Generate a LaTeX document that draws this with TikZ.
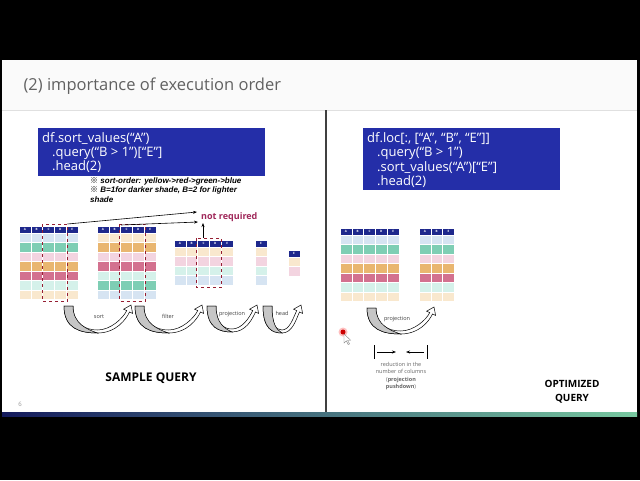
\documentclass[tikz,border=0pt]{standalone}
\usepackage{fontspec}
\setmainfont{Open Sans}
\newfontfamily\notefont{Liberation Sans}
\newfontfamily\jpfont{Noto Sans CJK JP}
\usetikzlibrary{arrows.meta}

\definecolor{codeblue}{RGB}{36,46,168}
\definecolor{hdrblue}{RGB}{30,40,140}
\definecolor{lblue}{RGB}{214,228,242}
\definecolor{tealc}{RGB}{126,206,180}
\definecolor{lpink}{RGB}{243,212,224}
\definecolor{orangec}{RGB}{233,182,112}
\definecolor{rosec}{RGB}{211,113,143}
\definecolor{mintc}{RGB}{213,241,234}
\definecolor{peachc}{RGB}{249,232,206}
\definecolor{notred}{RGB}{160,40,90}
\definecolor{dashred}{RGB}{150,30,50}

% one data frame: name, left x, top y, column letters, row colours
\newcommand{\dftab}[5]{%
  \foreach \hl [count=\i from 0] in {#4} {
    \fill[hdrblue,draw=white,line width=0.6pt] ({#2+\i*11.8},#3) rectangle ++(11.8,7);
    \node[hdrtxt] (#1-\hl) at ({#2+(\i+0.5)*11.8},{#3+3.5}) {\hl};
    \foreach \rc [count=\j from 0] in {#5}
      \fill[\rc,draw=white,line width=0.6pt] ({#2+\i*11.8},{#3+7+\j*9.5}) rectangle ++(11.8,9.5);
  }}
% curved block arrow: tail x, tip x, top y, bottom y
\newcommand{\uturn}[4]{%
  \pgfmathsetmacro\arm{(#1+#2)/2}\pgfmathsetmacro\arw{#2-#1}
  \filldraw[fill=white,draw=black,line width=0.5pt] (#1,#3) .. controls (#1,{#4-4}) and ({\arm-0.25*\arw},#4) .. (\arm,#4)
    .. controls ({\arm+0.28*\arw},#4) and ({#2-4.9},{#3+13.2}) .. ({#2-1.5},{#3+6}) -- ({#2+1.6},{#3+7.4}) -- (#2,{#3-1})
    -- ({#2-7.4},{#3+3.2}) -- ({#2-4.3},{#3+4.6}) .. controls ({#2-7.7},{#3+11.8}) and ({\arm+0.2*\arw},{#4-3}) .. (\arm,{#4-3})
    .. controls ({\arm-0.18*\arw},{#4-3}) and ({#1+9},{#4-9}) .. ({#1+9},#3) -- cycle;
  \filldraw[fill=gray!45,draw=black,line width=0.5pt] (#1,#3) .. controls (#1,{#4-4}) and ({\arm-0.25*\arw},#4) .. (\arm,#4)
    .. controls ({\arm-0.15*\arw},{#4-3.5}) and ({#1+9},{#4-9}) .. ({#1+9},#3) -- cycle;
}

\begin{document}
\begin{tikzpicture}[x=1pt,y=-1pt,>={Stealth[length=4pt,width=3pt]},
  hdrtxt/.style={text=white,font=\bfseries\fontsize{3}{3}\selectfont,inner sep=0pt},
  code/.style={text=white,font=\fontsize{13}{14}\selectfont,align=left,anchor=north west,inner sep=0pt},
  steplbl/.style={text=black!75,font=\fontsize{5.5}{6}\selectfont,inner sep=0pt},
  cutbox/.style={dashred,dashed,line width=0.8pt}]
  \useasboundingbox (0,0) rectangle (640,480);
  \fill[black] (0,0) rectangle (640,480);
  \fill[white] (2,60) rectangle (637,412);
  \fill[black!2] (2,60) rectangle (637,110); \draw[black!12] (2,110) -- (637,110);
  \shade[left color={rgb,255:red,20;green,26;blue,92},middle color={rgb,255:red,26;green,44;blue,110},right color={rgb,255:red,120;green,200;blue,160}] (2,412) rectangle (637,416);
  \draw[black!75,line width=1.2pt] (326,110) -- (326,412);
  \node[anchor=west,text=black!62,font=\fontsize{16.5}{18}\selectfont] (title) at (20,86) {(2) importance of execution order};

  % sample query
  \fill[codeblue] (38,128) rectangle (265,176);
  \node[code] (q1) at (42,132) {df.sort\_values(“A”)\\\hspace*{10pt}.query(“B > 1”)[“E”]\\\hspace*{10pt}.head(2)};
  \node[anchor=north west,inner sep=0pt,align=left,font=\notefont\bfseries\itshape\fontsize{8}{9.2}\selectfont] (note) at (90,177.5) {{\jpfont ※} sort-order: yellow->red->green->blue\\{\jpfont ※} B=1for darker shade, B=2 for lighter\\shade};
  \dftab{ta}{19}{226}{A,B,C,D,E}{lblue,tealc,lpink,orangec,rosec,mintc,peachc}
  \dftab{tb}{97}{226}{A,B,C,D,E}{peachc,orangec,lpink,rosec,mintc,tealc,lblue}
  \dftab{tc}{174}{240}{A,B,C,D,E}{peachc,lpink,mintc,lblue}
  \dftab{td}{255}{240}{E}{peachc,lpink,mintc,lblue}
  \dftab{te}{288}{250}{E}{peachc,lpink}
  \draw[cutbox] (42,224) rectangle (67.5,301);
  \draw[cutbox] (119.5,224) rectangle (145.5,301);
  \draw[cutbox] (196,238) rectangle (221.5,287);
  \node[anchor=west,text=notred,font=\bfseries\fontsize{9}{10}\selectfont,inner sep=0pt] (nreq) at (201,217) {not required};
  \coordinate (c1) at (67.5,224); \coordinate (c2) at (121,225); \coordinate (c3) at (203,238);
  \coordinate (n1) at (197,212); \coordinate (n2) at (198,222); \coordinate (n3) at (203,223);
  \draw[->,line width=0.6pt] (c1) -- (n1); \draw[->,line width=0.6pt] (c2) -- (n2); \draw[->,line width=0.6pt] (c3) -- (n3);
  \uturn{64}{131}{306}{333} \uturn{135}{202}{306}{333} \uturn{207}{257}{306}{332} \uturn{263}{301}{306}{333}
  \node[steplbl] (s1) at (99,317) {sort}; \node[steplbl] (s2) at (168,316) {filter};
  \node[steplbl] (s3) at (232,314) {projection}; \node[steplbl] (s4) at (282,313) {head};
  \node[font=\bfseries\fontsize{12}{14}\selectfont] (sq) at (151,378) {SAMPLE QUERY};
  \node[text=black!40,font=\fontsize{6}{7}\selectfont] (pg) at (20,404) {6};

  % optimized query
  \fill[codeblue] (363,128) rectangle (560,190);
  \node[code,font=\fontsize{13}{14.6}\selectfont] (q2) at (367,132) {df.loc[:, [“A”, “B”, “E”]]\\\hspace*{10pt}.query(“B > 1”)\\\hspace*{10pt}.sort\_values(“A”)[“E”]\\\hspace*{10pt}.head(2)};
  \dftab{ra}{340}{228}{A,B,C,D,E}{lblue,tealc,lpink,orangec,rosec,mintc,peachc}
  \dftab{rb}{419}{228}{A,B,E}{lblue,tealc,lpink,orangec,rosec,mintc,peachc}
  \uturn{367}{434}{308}{334}
  \node[steplbl] (s5) at (397,319) {projection};
  \coordinate (b1) at (374,345); \coordinate (b2) at (374,359); \coordinate (b3) at (427,345); \coordinate (b4) at (427,359);
  \coordinate (a1) at (377,352); \coordinate (a2) at (396,352); \coordinate (a3) at (424,352); \coordinate (a4) at (406,352);
  \draw[line width=0.7pt] (b1) -- (b2); \draw[line width=0.7pt] (b3) -- (b4);
  \draw[->,line width=0.7pt] (a1) -- (a2); \draw[->,line width=0.7pt] (a3) -- (a4);
  \node[text=black!60,align=center,font=\fontsize{5.5}{7.2}\selectfont] (red) at (401,376) {reduction in the\\number of columns\\(\textbf{projection}\\\textbf{pushdown})};
  \node[align=center,font=\bfseries\fontsize{10}{14}\selectfont] (oq) at (572,392) {OPTIMIZED\\QUERY};
  \fill[red!25] (343,332) circle (4.5); \fill[red!80!black] (343,332) circle (2.5);
  \filldraw[fill=white,draw=gray,line width=0.4pt] (344,334) -- (344,343) -- (346.3,340.8) -- (348.2,344.5) -- (349.5,343.9) -- (347.6,340.2) -- (350.6,340.2) -- cycle;
\end{tikzpicture}
\end{document}
